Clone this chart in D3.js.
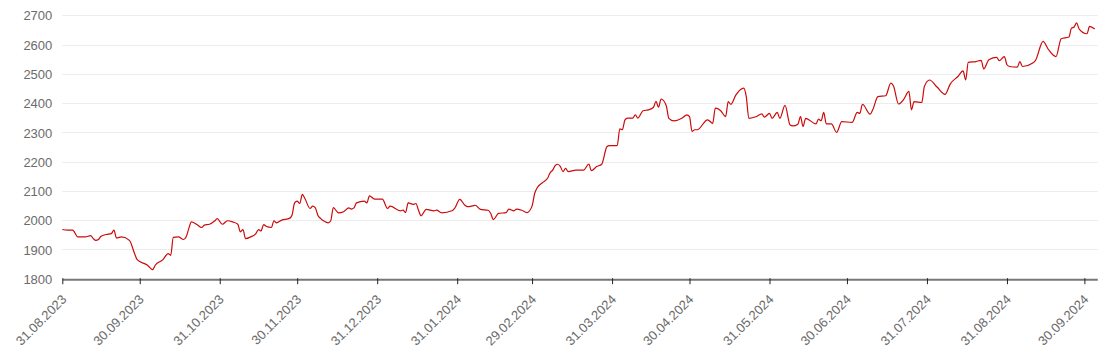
<!DOCTYPE html>
<html><head><meta charset="utf-8">
<script src="https://cdn.jsdelivr.net/npm/d3@7"></script>
<style>
html,body{margin:0;padding:0;background:#fff;}
svg{display:block;font-family:"Liberation Sans",Arial,sans-serif;}
</style></head>
<body>
<svg id="chart" width="1113" height="358"></svg>
<script>
const dates = [
"2023-08-31","2023-09-02","2023-09-04","2023-09-06","2023-09-09","2023-09-11","2023-09-12","2023-09-13","2023-09-14","2023-09-15",
"2023-09-17","2023-09-19","2023-09-20","2023-09-21","2023-09-23","2023-09-26","2023-09-28","2023-09-29","2023-10-03","2023-10-05",
"2023-10-06","2023-10-09","2023-10-11","2023-10-12","2023-10-13","2023-10-15","2023-10-17","2023-10-18","2023-10-19","2023-10-20",
"2023-10-22","2023-10-24","2023-10-25","2023-10-27","2023-10-29","2023-10-30","2023-11-01","2023-11-03","2023-11-05","2023-11-07",
"2023-11-08","2023-11-09","2023-11-10","2023-11-12","2023-11-14","2023-11-15","2023-11-16","2023-11-17","2023-11-18","2023-11-20",
"2023-11-21","2023-11-22","2023-11-24","2023-11-27","2023-11-28","2023-11-29","2023-11-30","2023-12-01","2023-12-02","2023-12-03",
"2023-12-05","2023-12-06","2023-12-07","2023-12-08","2023-12-09","2023-12-11","2023-12-12","2023-12-13","2023-12-14","2023-12-16",
"2023-12-18","2023-12-20","2023-12-21","2023-12-22","2023-12-23","2023-12-26","2023-12-27","2023-12-28","2023-12-30",
"2024-01-02","2024-01-04","2024-01-05","2024-01-09","2024-01-10","2024-01-11","2024-01-12","2024-01-14","2024-01-15","2024-01-16",
"2024-01-17","2024-01-19","2024-01-22","2024-01-23","2024-01-25","2024-01-29","2024-01-30","2024-02-01","2024-02-03","2024-02-04",
"2024-02-06","2024-02-07","2024-02-09","2024-02-12","2024-02-13","2024-02-14","2024-02-16","2024-02-19","2024-02-20","2024-02-22",
"2024-02-23","2024-02-25","2024-02-27","2024-02-29","2024-03-01","2024-03-02","2024-03-04","2024-03-06","2024-03-07","2024-03-08",
"2024-03-09","2024-03-10","2024-03-11","2024-03-12","2024-03-13","2024-03-14","2024-03-17","2024-03-19","2024-03-20","2024-03-22",
"2024-03-23","2024-03-25","2024-03-27","2024-03-29","2024-03-30","2024-04-02","2024-04-03","2024-04-04","2024-04-05","2024-04-06",
"2024-04-08","2024-04-09","2024-04-10","2024-04-12","2024-04-14","2024-04-16","2024-04-17","2024-04-18","2024-04-19","2024-04-21",
"2024-04-22","2024-04-24","2024-04-27","2024-04-29","2024-04-30","2024-05-01","2024-05-02","2024-05-03","2024-05-07","2024-05-09",
"2024-05-10","2024-05-12","2024-05-14","2024-05-15","2024-05-16","2024-05-18","2024-05-21","2024-05-22","2024-05-23","2024-05-26",
"2024-05-28","2024-05-29","2024-05-31","2024-06-01","2024-06-03","2024-06-04","2024-06-06","2024-06-08","2024-06-09","2024-06-11",
"2024-06-12","2024-06-13","2024-06-14","2024-06-18","2024-06-19","2024-06-20","2024-06-21","2024-06-22","2024-06-24","2024-06-26",
"2024-06-28","2024-07-02","2024-07-04","2024-07-05","2024-07-06","2024-07-09","2024-07-10","2024-07-12","2024-07-15","2024-07-17",
"2024-07-18","2024-07-20","2024-07-22","2024-07-24","2024-07-25","2024-07-26","2024-07-29","2024-07-30","2024-08-01","2024-08-04",
"2024-08-07","2024-08-09","2024-08-12","2024-08-14","2024-08-15","2024-08-16","2024-08-19","2024-08-21","2024-08-22","2024-08-24",
"2024-08-27","2024-08-28","2024-08-30","2024-08-31","2024-09-01","2024-09-04","2024-09-05","2024-09-06","2024-09-10","2024-09-11",
"2024-09-14","2024-09-16","2024-09-19","2024-09-21","2024-09-24","2024-09-25","2024-09-26","2024-09-27","2024-09-28","2024-10-01",
"2024-10-02","2024-10-04"
];
const values = [
1968,1966,1966,1943,1943,1947,1937,1931,1934,1945,
1951,1954,1966,1939,1943,1931,1886,1865,1846,1831,
1846,1865,1886,1880,1941,1943,1934,1943,1971,1994,
1986,1975,1983,1986,1997,2005,1986,1998,1994,1986,
1960,1968,1937,1943,1954,1968,1963,1985,1979,1975,
1998,1991,2000,2006,2017,2059,2065,2057,2088,2074,
2040,2048,2043,2017,2006,1994,1991,1998,2043,2025,
2029,2042,2038,2042,2059,2065,2059,2083,2072,
2072,2040,2048,2032,2034,2026,2059,2054,2057,2034,
2015,2037,2032,2034,2025,2032,2040,2071,2051,2046,
2049,2051,2037,2034,2023,2002,2023,2026,2038,2032,
2038,2034,2026,2048,2091,2111,2128,2143,2162,2171,
2187,2191,2183,2166,2177,2166,2171,2171,2171,2192,
2169,2183,2191,2251,2255,2255,2312,2309,2343,2349,
2349,2360,2349,2374,2377,2385,2406,2386,2414,2391,
2348,2339,2348,2360,2354,2303,2309,2309,2343,2331,
2383,2375,2354,2405,2396,2428,2451,2422,2348,2354,
2363,2352,2365,2348,2368,2348,2392,2325,2322,2328,
2354,2320,2348,2329,2345,2340,2368,2329,2329,2300,
2337,2334,2368,2365,2396,2362,2377,2422,2425,2468,
2459,2397,2413,2440,2377,2405,2402,2457,2479,2454,
2430,2465,2491,2510,2479,2539,2542,2546,2517,2548,
2556,2545,2559,2531,2525,2523,2542,2525,2537,2545,
2611,2584,2559,2620,2626,2656,2660,2674,2653,2637,
2662,2653
];
const xTickDates = ["2023-08-31","2023-09-30","2023-10-31","2023-11-30","2023-12-31","2024-01-31","2024-02-29","2024-03-31","2024-04-30","2024-05-31","2024-06-30","2024-07-31","2024-08-31","2024-09-30"];
const yTicks = [1800,1900,2000,2100,2200,2300,2400,2500,2600,2700];
const xDomain = ["2023-08-31","2024-10-05"];

const parse = d3.utcParse("%Y-%m-%d");
const fmt = d3.utcFormat("%d.%m.%Y");
const data = dates.map((d,i)=>({date:parse(d), value:values[i]}));

const mLeft = 62.3, mRight = 1097.3, mTop = 15.3, mBottom = 278.7;
const svg = d3.select("#chart");
const x = d3.scaleUtc().domain(xDomain.map(parse)).range([mLeft, mRight]);
const y = d3.scaleLinear().domain([1800,2700]).range([mBottom, mTop]);

// gridlines
svg.append("g").selectAll("line").data(yTicks.filter(t=>t>1800)).join("line")
  .attr("x1", mLeft).attr("x2", mRight+0.5)
  .attr("y1", d=>Math.round(y(d))+0.5).attr("y2", d=>Math.round(y(d))+0.5)
  .attr("stroke", "#ececec").attr("stroke-width", 1);

// y labels
const yAxis = d3.axisLeft(y).tickValues(yTicks).tickSize(0).tickPadding(0).tickFormat(d3.format("d"));
const gy = svg.append("g").attr("transform", `translate(${mLeft-10},0)`).call(yAxis);
gy.select(".domain").remove();
gy.selectAll("text").attr("fill", "#6b6b6b").style("font-size", "13px").attr("dy","0.36em");

// line
const line = d3.line().x(d=>x(d.date)).y(d=>y(d.value)).curve(d3.curveMonotoneX);
svg.append("path").datum(data).attr("d", line)
  .attr("fill","none").attr("stroke","#cc0a0a").attr("stroke-width",1.2).attr("stroke-linejoin","round");

// x axis
const xAxis = d3.axisBottom(x).tickValues(xTickDates.map(parse)).tickFormat(fmt).tickSizeOuter(0).tickSizeInner(5).tickPadding(6);
const gx = svg.append("g").attr("transform", `translate(0,${mBottom+0.5})`).call(xAxis);
gx.select(".domain").attr("stroke","#777").attr("stroke-width",2);
gx.selectAll(".tick line").attr("stroke","#222").attr("y1",-1);
gx.selectAll(".tick text").attr("fill","#6b6b6b").style("font-size","13px")
  .attr("text-anchor","end").attr("x",0).attr("y",0).attr("dx","0").attr("dy","0")
  .attr("transform","translate(4.5,21) rotate(-45)");
</script>
</body></html>
